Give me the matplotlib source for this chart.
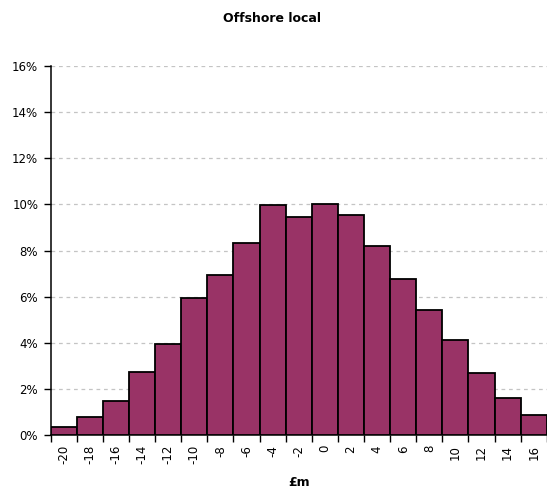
import numpy as np
from matplotlib import pyplot as plt
from matplotlib.ticker import PercentFormatter

# distribution of outcomes, in £m buckets
buckets = [-20, -18, -16, -14, -12, -10, -8, -6, -4, -2, 0, 2, 4, 6, 8, 10, 12, 14, 16]
shares = [0.36, 0.78, 1.50, 2.73, 3.97, 5.96, 6.95, 8.31, 9.97, 9.46,
          10.01, 9.55, 8.19, 6.78, 5.42, 4.13, 2.71, 1.60, 0.88]

fig = plt.figure(figsize=(5.47, 4.94), dpi=100)
ax = fig.add_axes([0.0927, 0.1188, 0.907, 0.748])

pos = np.arange(len(buckets))
ax.bar(pos, shares, width=1.0, color="#993366", edgecolor="black", linewidth=1.3, zorder=3)

ax.set_xlim(-0.5, len(buckets) - 0.5)
ax.set_ylim(0, 16)
ax.set_yticks(np.arange(0, 17, 2))
ax.yaxis.set_major_formatter(PercentFormatter(decimals=0))
ax.grid(axis="y", color="#c4c4c4", linestyle=(0, (3, 3)), linewidth=0.9, zorder=0)

# labels under the bar centres, tick marks on the bucket edges
ax.set_xticks(pos)
ax.set_xticklabels([str(b) for b in buckets], rotation=90)
ax.tick_params(axis="x", which="major", length=0, pad=7)
ax.set_xticks(np.arange(-0.5, len(buckets), 1.0), minor=True)
ax.tick_params(axis="x", which="minor", length=5, width=1, direction="out")
ax.tick_params(axis="y", length=5, width=1, direction="out", pad=4)
ax.tick_params(labelsize=8.5)

for side in ["top", "right"]:
    ax.spines[side].set_visible(False)
for side in ["left", "bottom"]:
    ax.spines[side].set_linewidth(1.1)

ax.set_xlabel("£m", fontsize=9, fontweight="bold", labelpad=8)
fig.suptitle("Offshore local", x=0.498, y=0.975, fontsize=9, fontweight="bold")

plt.savefig("out.png", dpi=100)
